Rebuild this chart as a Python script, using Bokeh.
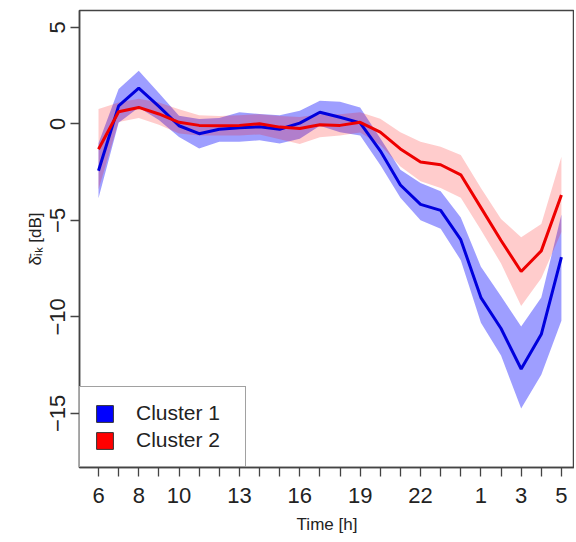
from bokeh.plotting import figure
from bokeh.models import FixedTicker, Legend, LegendItem, ColumnDataSource, Range1d
from bokeh.embed import file_html
from bokeh.resources import INLINE

hours = [6, 7, 8, 9, 10, 11, 12, 13, 14, 15, 16, 17, 18, 19, 20, 21, 22, 23, 0, 1, 2, 3, 4, 5]
labelled_hours = [6, 8, 10, 13, 16, 19, 22, 1, 3, 5]

c1_mean = [-2.43, 0.93, 1.85, 0.9, -0.1, -0.51, -0.28, -0.2, -0.15, -0.28, 0.04, 0.6,
           0.34, 0.05, -1.4, -3.17, -4.17, -4.48, -6.0, -9.0, -10.6, -12.7, -10.9, -6.9]
c1_upper = [-1.0, 1.8, 2.75, 1.6, 0.42, 0.25, 0.3, 0.6, 0.51, 0.45, 0.68, 1.19,
            1.15, 0.85, -0.75, -2.38, -3.06, -3.49, -4.85, -7.4, -8.93, -10.5, -9.0, -4.7]
c1_lower = [-3.85, 0.05, 0.85, 0.2, -0.68, -1.28, -0.93, -0.93, -0.85, -1.02, -0.77, -0.1,
            -0.43, -0.6, -2.13, -3.83, -5.0, -5.44, -7.06, -10.3, -12.0, -14.75, -13.0, -10.2]

c2_mean = [-1.32, 0.63, 0.85, 0.51, 0.08, -0.08, -0.1, -0.08, 0.0, -0.17, -0.24, -0.05,
           -0.08, 0.08, -0.43, -1.3, -1.98, -2.12, -2.64, -4.34, -6.04, -7.65, -6.58, -3.68]
c2_upper = [0.77, 1.1, 1.3, 1.1, 0.75, 0.45, 0.4, 0.45, 0.5, 0.4, 0.35, 0.5,
            0.5, 0.6, 0.26, -0.43, -0.93, -1.19, -1.62, -3.32, -4.93, -5.87, -5.19, -1.7]
c2_lower = [-3.4, 0.1, 0.3, -0.05, -0.5, -0.6, -0.6, -0.6, -0.55, -0.8, -1.05, -0.7,
            -0.6, -0.45, -1.1, -2.21, -2.98, -3.32, -3.83, -5.5, -7.23, -9.44, -8.0, -5.6]

series_names = ["Cluster 1", "Cluster 2"]
y_ticks = [5, 0, -5, -10, -15]

idx = list(range(len(hours)))
src = ColumnDataSource(dict(x=idx, m1=c1_mean, u1=c1_upper, l1=c1_lower,
                            m2=c2_mean, u2=c2_upper, l2=c2_lower))

p = figure(width=574, height=536, output_backend="svg", toolbar_location=None,
           x_range=Range1d(-0.944, 23.65), y_range=Range1d(-17.8, 5.87),
           min_border_left=79, min_border_right=0, min_border_top=10, min_border_bottom=62)
p.grid.visible = False
p.outline_line_color = "#444444"
p.outline_line_width = 1.5
p.background_fill_color = "white"
p.border_fill_color = "white"

p.varea(x="x", y1="l1", y2="u1", source=src, fill_color="#0000FF", fill_alpha=0.38)
p.varea(x="x", y1="l2", y2="u2", source=src, fill_color="#FF0000", fill_alpha=0.2)
p.line(x="x", y="m1", source=src, line_color="#0000DD", line_width=3)
p.line(x="x", y="m2", source=src, line_color="#EE0000", line_width=3)

# legend proxies (not drawn in the plot: NaN coordinates)
nan = float("nan")
e1 = p.quad(left=[nan], right=[nan], top=[nan], bottom=[nan],
            fill_color="#0000FF", line_color="#333333")
e2 = p.quad(left=[nan], right=[nan], top=[nan], bottom=[nan],
            fill_color="#FF0000", line_color="#333333")
legend = Legend(items=[LegendItem(label=series_names[0], renderers=[e1]),
                       LegendItem(label=series_names[1], renderers=[e2])],
                location=(0, 0), orientation="vertical",
                glyph_width=21, glyph_height=21, label_standoff=21, label_width=95,
                padding=14, spacing=3, margin=0,
                label_text_font="Liberation Sans", label_text_font_size="21px",
                label_text_color="#222222",
                border_line_color="#444444", border_line_width=1.5,
                background_fill_color="white", background_fill_alpha=1.0)
p.add_layout(legend, "center")

# x axis
xa = p.xaxis[0]
xa.ticker = FixedTicker(ticks=idx)
xa.major_label_overrides = {i: (str(h) if h in labelled_hours else "") for i, h in zip(idx, hours)}
xa.minor_tick_line_color = None
xa.major_tick_out = 9
xa.major_tick_in = 0
xa.major_tick_line_color = "#444444"
xa.major_tick_line_width = 1.3
xa.axis_line_color = "#444444"
xa.axis_line_width = 1.5
xa.major_label_text_font = "Liberation Sans"
xa.major_label_text_font_size = "22px"
xa.major_label_text_color = "#222222"
xa.major_label_standoff = 11
xa.axis_label = "Time [h]"
xa.axis_label_text_font = "Liberation Sans"
xa.axis_label_text_font_size = "17px"
xa.axis_label_text_font_style = "normal"
xa.axis_label_text_color = "#222222"
xa.axis_label_standoff = 9

ya = p.yaxis[0]
ya.ticker = FixedTicker(ticks=y_ticks)
ya.minor_tick_line_color = None
ya.major_tick_out = 9
ya.major_tick_in = 0
ya.major_tick_line_color = "#444444"
ya.major_tick_line_width = 1.3
ya.axis_line_color = "#444444"
ya.axis_line_width = 1.5
ya.major_label_orientation = "vertical"
ya.major_label_text_font = "Liberation Sans"
ya.major_label_text_font_size = "22px"
ya.major_label_text_color = "#222222"
ya.major_label_standoff = 5
ya.axis_label = "δ̄ᵢₖ [dB]"
ya.axis_label_text_font = "Liberation Sans"
ya.axis_label_text_font_size = "17px"
ya.axis_label_text_font_style = "normal"
ya.axis_label_text_color = "#222222"
ya.axis_label_standoff = 3

open("out.html", "w").write(file_html(p, INLINE))
